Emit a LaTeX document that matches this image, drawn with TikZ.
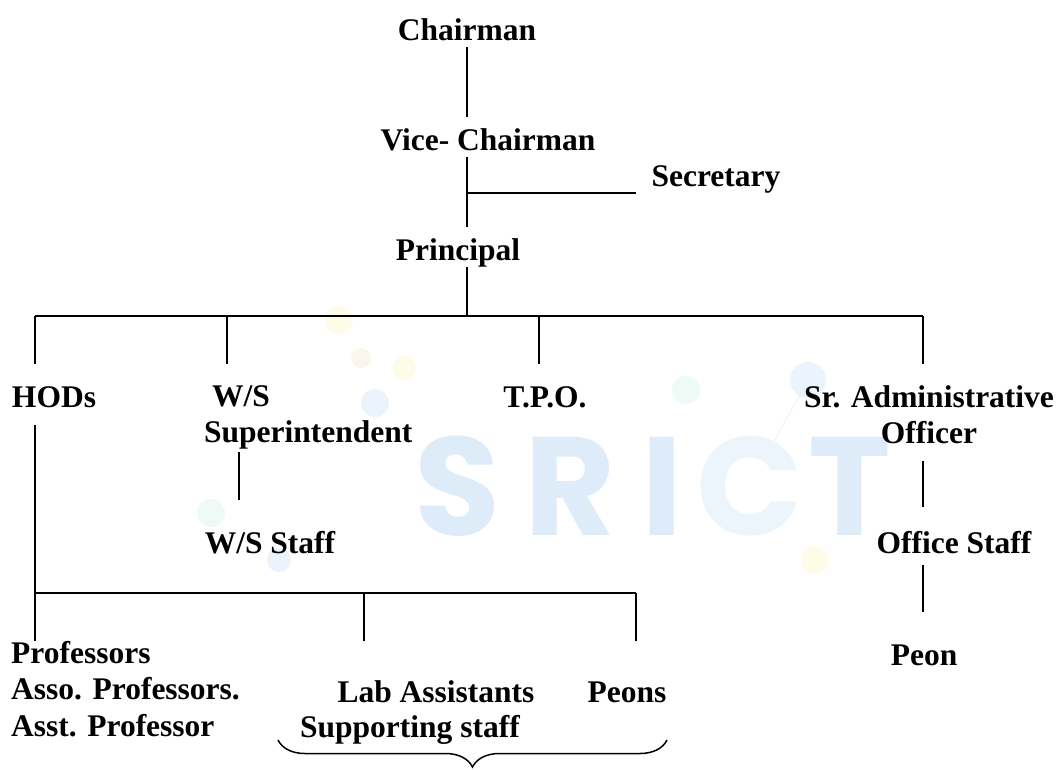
\documentclass[tikz,border=0pt]{standalone}
\usepackage{fontspec}
\setmainfont{Liberation Serif}
\newfontfamily\wmfont{Poppins}
\usepackage{tikz}
\usetikzlibrary{positioning, calc, decorations.pathreplacing}

\definecolor{wmblue}{RGB}{222,236,250}
\definecolor{wmyellow}{RGB}{250,250,218}
\definecolor{wmorange}{RGB}{250,238,222}
\definecolor{wmgreen}{RGB}{226,246,238}

\tikzstyle{conn} = [line width=1.7pt]

\begin{document}
\begin{tikzpicture}[
	x=1pt, y=-1pt,
	every node/.style={font=\bfseries\fontsize{31.5}{36.5}\selectfont, inner sep=0pt},
	post/.style={anchor=base, text height=22pt, text depth=7pt},
	multipost/.style={anchor=north, align=center}
]
\useasboundingbox (0,0) rectangle (1062,769);

% faint SRICT watermark behind the chart
\begin{scope}[opacity=0.6, every node/.style={font=\wmfont\bfseries\fontsize{140}{140}\selectfont, anchor=base, inner sep=0pt}]
\fill[wmyellow] (339,320) circle (14pt);
\fill[wmorange] (361,358) circle (10pt);
\fill[wmyellow] (404,368) circle (12pt);
\fill[wmblue] (375,403) circle (14pt);
\fill[wmgreen] (211,513) circle (14pt);
\fill[wmblue] (279,560) circle (12pt);
\fill[wmgreen] (686,390) circle (14pt);
\fill[wmblue] (808,380) circle (18pt);
\fill[wmyellow] (815,560) circle (14pt);
\draw[wmblue, line width=1pt] (808,380) -- (772,445);
\end{scope}
\begin{scope}[every node/.style={font=\wmfont\bfseries\fontsize{140}{140}\selectfont, anchor=base, inner sep=0pt}]
\node[text=wmblue] (wmS) at (458,535) {S};
\node[text=wmblue] (wmR) at (570,535) {R};
\node[text=wmblue] (wmI) at (662,535) {I};
\node[text=wmblue!55] (wmC) at (750,535) {C};
\node[text=wmblue] (wmT) at (850,535) {T};
\end{scope}

% Posts
\node[post] (chair) at (467,40) {Chairman};
\node[post] (vice) at (488,150) {Vice- Chairman};
\node[post] (secr) at (716,186) {Secretary};
\node[post] (princ) at (458,260) {Principal};
\node[post] (hods) at (54,407) {HODs};
\node[multipost, anchor=north west, align=left] (wss) at (204,385) {\hspace{8pt}W/S\\Superintendent};
\node[post] (tpo) at (545,407) {T.P.O.};
\node[multipost] (sao) at (929,385) {Sr. Administrative\\Officer};
\node[post] (wsst) at (270,553) {W/S Staff};
\node[post] (offs) at (954,553) {Office Staff};
\node[post] (peon) at (924,665) {Peon};
\node[multipost, anchor=north west, align=left] (prof) at (11,641) {Professors\\Asso. Professors.\\Asst. Professor};
\node[post] (lab) at (436,702) {Lab Assistants};
\node[post] (peons) at (627,702) {Peons};
\node[post] (supp) at (410,737) {Supporting staff};

% Junctions
\coordinate (trunk) at (467,0);
\coordinate (jL) at (35,316);
\coordinate (jW) at (227,316);
\coordinate (jP) at (467,316);
\coordinate (jT) at (539,316);
\coordinate (jR) at (923,316);
\coordinate (kL) at (35,593);
\coordinate (kM) at (364,593);
\coordinate (kR) at (636,593);
\coordinate (xW) at (239,0);
\coordinate (brL) at (278,740);
\coordinate (brR) at (667,740);

% Top of the chart
\draw[conn, shorten >=11pt] (chair.south) -- (chair.south |- vice.north);
\draw[conn, shorten >=11pt] (vice.south -| trunk) -- (trunk |- princ.north);
\draw[conn, shorten >=15pt] (trunk |- secr.south west) -- (secr.south west);
\draw[conn] (princ.south -| trunk) -- (jP);

% Bar under the Principal
\draw[conn] (jL) -- (jR);
\draw[conn, shorten >=21pt] (jL) -- (jL |- hods.north);
\draw[conn, shorten >=21pt] (jW) -- (jW |- wss.north);
\draw[conn, shorten >=21pt] (jT) -- (jT |- tpo.north);
\draw[conn, shorten >=21pt] (jR) -- (jR |- sao.north);

% Workshop and office branches
\draw[conn, shorten <=3pt, shorten >=31pt] (wss.south -| xW) -- (xW |- wsst.north);
\draw[conn, shorten <=17pt, shorten >=24pt] (sao.south -| jR) -- (jR |- offs.north);
\draw[conn, shorten <=5pt, shorten >=31pt] (offs.south -| jR) -- (jR |- peon.north);

% HODs branch
\draw[conn, shorten <=11pt] (hods.south -| kL) -- (kL);
\draw[conn] (kL) -- (kR);
\draw[conn] (kL) -- (kL |- prof.north);
\draw[conn, shorten >=39pt] (kM) -- (kM |- lab.north);
\draw[conn, shorten >=39pt] (kR) -- (kR |- peons.north);

% Brace under the supporting staff
\draw[line width=1.5pt, decorate, decoration={brace, mirror, amplitude=27pt}] (brL) -- (brR);

\end{tikzpicture}
\end{document}
